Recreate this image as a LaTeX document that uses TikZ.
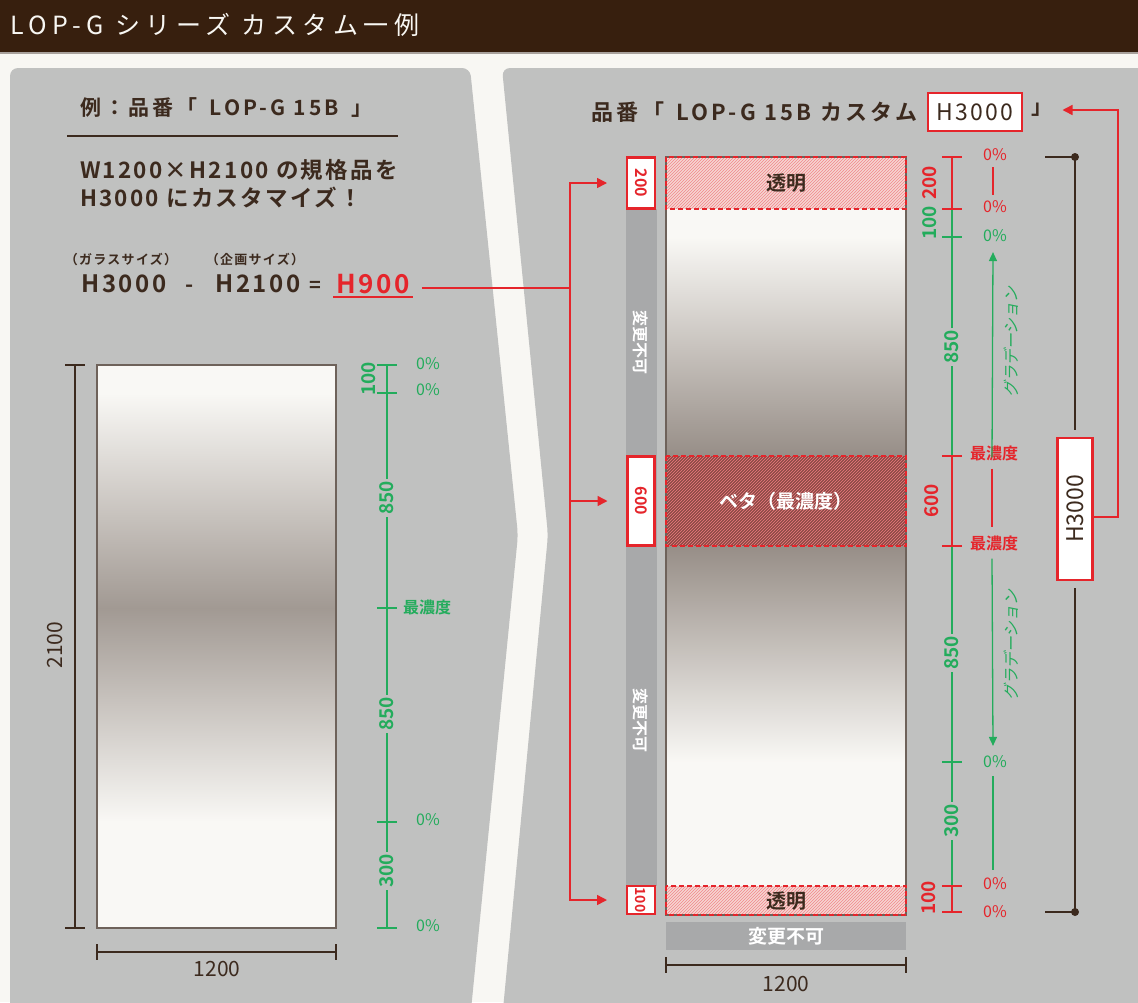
\documentclass[tikz,border=0pt]{standalone}
\usepackage{fontspec}
\usepackage{graphicx}
\setmainfont{Noto Sans CJK JP}[BoldFont={Noto Sans CJK JP Bold}]
\newfontfamily\titlefont[LetterSpace=22]{Noto Sans CJK JP}
\newfontfamily\widefont[LetterSpace=10,BoldFont={Noto Sans CJK JP Bold}]{Noto Sans CJK JP}
\newfontfamily\widerfont[LetterSpace=15,BoldFont={Noto Sans CJK JP Bold}]{Noto Sans CJK JP}
\newfontfamily\gradfont[FakeSlant=0.2]{Noto Sans CJK JP}
\usetikzlibrary{arrows.meta}
\usetikzlibrary{patterns}
\usetikzlibrary{positioning}
\definecolor{barbrown}{HTML}{371F0E}
\definecolor{inkbrown}{HTML}{3C2A1E}
\definecolor{panelgrey}{HTML}{C0C1C0}
\definecolor{paper}{HTML}{F8F7F3}
\definecolor{markred}{HTML}{E5252B}
\definecolor{markgreen}{HTML}{23AC5C}
\definecolor{lockgrey}{HTML}{A8A9AA}
\definecolor{glasswhite}{HTML}{F9F8F5}
\definecolor{glassdark}{HTML}{978E87}
\definecolor{glassedge}{HTML}{6E625A}
\definecolor{betared}{HTML}{8B4A46}
\definecolor{clearpink}{HTML}{F6D6D3}

\begin{document}
\begin{tikzpicture}[x=1pt,y=-1pt,
    every node/.style={inner sep=0pt,outer sep=0pt},
    inktext/.style={text=inkbrown},
    pct/.style={font=\fontsize{16}{16}\selectfont},
    scalenum/.style={rotate=90,font=\bfseries\fontsize{19}{19}\selectfont,fill=panelgrey,inner sep=2pt},
    numbox/.style={draw=markred,line width=2.4pt,fill=white,text=markred,
        font=\bfseries\fontsize{16}{16}\selectfont},
    clearzone/.style={draw=markred,line width=1.6pt,dash pattern=on 5pt off 3pt},
    greenline/.style={markgreen,line width=1.3pt},
    redline/.style={markred,line width=1.3pt},
    redarrow/.style={markred,line width=1.5pt,-{Triangle[length=10pt,width=10pt]}},
    greenarrow/.style={markgreen,line width=1.3pt,-{Triangle[length=9pt,width=8pt]}},
    dimline/.style={inkbrown,line width=1.3pt}
  ]
  \useasboundingbox (0,0) rectangle (1138,1002);
  \fill[paper] (0,0) rectangle (1138,1002);

  % title bar
  \fill[barbrown] (0,0) rectangle (1138,52);
  \draw[line width=1.5pt,color=glassedge!60] (0,53) -- (1138,53);
  \node[anchor=west,text=paper,font=\titlefont\fontsize{25}{25}\selectfont] (title) at (10,25) {LOP-G シリーズ カスタム一例};

  % panels
  \fill[panelgrey,rounded corners=8pt] (10,1020) -- (10,68) -- (470,68) -- (518,535) -- (470,1020) -- cycle;
  \fill[panelgrey,rounded corners=8pt] (1150,1020) -- (502,1020) -- (548,535) -- (502,68) -- (1150,68) -- cycle;

  % ---- left panel ----
  \node[inktext,anchor=west,font=\widerfont\bfseries\fontsize{21}{21}\selectfont] (example) at (80,108) {例：品番「\hspace{12pt}LOP-G 15B\hspace{12pt}」};
  \draw[inkbrown,line width=2pt] (67,136) -- (398,136);
  \node[inktext,anchor=west,font=\widefont\bfseries\fontsize{22.5}{22.5}\selectfont] (specline) at (80,170) {W1200×H2100 の規格品を};
  \node[inktext,anchor=west,font=\widefont\bfseries\fontsize{22.5}{22.5}\selectfont] (customline) at (80,198) {H3000 にカスタマイズ！};

  \node[inktext,font=\widefont\bfseries\fontsize{13}{13}\selectfont] (glassnote) at (121,260) {（ガラスサイズ）};
  \node[inktext,font=\widefont\bfseries\fontsize{13}{13}\selectfont] (plannote) at (255,260) {（企画サイズ）};
  \node[inktext,font=\widefont\bfseries\fontsize{24}{24}\selectfont] (glasssize) at (124,284) {H3000};
  \node[inktext,font=\bfseries\fontsize{22}{22}\selectfont] (minus) at (190,289) {-};
  \node[inktext,font=\widefont\bfseries\fontsize{24}{24}\selectfont] (plansize) at (258,284) {H2100};
  \node[inktext,font=\bfseries\fontsize{20}{20}\selectfont] (equals) at (315,287) {=};
  \node[text=markred,font=\widefont\bfseries\fontsize{26}{26}\selectfont] (diff) at (373,284) {H900};
  \draw[markred,line width=1.5pt] (333,297) -- (413,297);

  % left glass
  \fill[glasswhite] (97,365) rectangle (336,393);
  \shade[top color=glasswhite,bottom color=glassdark!90] (97,393) rectangle (336,608);
  \shade[top color=glassdark!90,bottom color=glasswhite] (97,608) rectangle (336,822);
  \fill[glasswhite] (97,822) rectangle (336,928);
  \draw[glassedge,line width=1.5pt] (97,365) rectangle (336,928);

  % left dimensions
  \draw[dimline] (75,365) -- (75,928);
  \draw[dimline] (65,365) -- (85,365) (65,928) -- (85,928);
  \node[inktext,rotate=90,font=\fontsize{21}{21}\selectfont] (lefth) at (55,645) {2100};
  \draw[dimline] (97,952) -- (336,952);
  \draw[dimline] (97,944) -- (97,960) (336,944) -- (336,960);
  \node[inktext,font=\fontsize{21}{21}\selectfont] (leftw) at (217,969) {1200};

  % left scale
  \draw[greenline] (387,365) -- (387,928);
  \foreach \t in {365,393,608,822,928}
    \draw[greenline] (377,\t) -- (397,\t);
  \node[scalenum,text=markgreen,fill=none] (ltop) at (369,379) {100};
  \node[scalenum,text=markgreen] (lupper) at (387,498) {850};
  \node[scalenum,text=markgreen] (llower) at (387,714) {850};
  \node[scalenum,text=markgreen] (lbottom) at (387,871) {300};
  \node[pct,text=markgreen] (lp1) at (428,364) {0\%};
  \node[pct,text=markgreen] (lp2) at (428,390) {0\%};
  \node[pct,text=markgreen,font=\bfseries\fontsize{16}{16}\selectfont] (lmax) at (427,607) {最濃度};
  \node[pct,text=markgreen] (lp3) at (428,820) {0\%};
  \node[pct,text=markgreen] (lp4) at (428,926) {0\%};

  % ---- right panel ----
  \node[inktext,anchor=east,font=\widerfont\bfseries\fontsize{22}{22}\selectfont] (header) at (918,112) {品番「\hspace{12pt}LOP-G 15B カスタム};
  \node[draw=markred,line width=2.4pt,fill=white,minimum width=94,minimum height=38,
        inktext,font=\widefont\fontsize{23}{23}\selectfont] (newsize) at (975,112) {H3000};
  \node[inktext,font=\bfseries\fontsize{21}{21}\selectfont] (closebr) at (1042,110) {」};

  % right glass
  \fill[clearpink] (666,157) rectangle (906,209);
  \fill[pattern=north east lines,pattern color=markred!55] (666,157) rectangle (906,209);
  \fill[glasswhite] (666,209) rectangle (906,237);
  \shade[top color=glasswhite,bottom color=glassdark] (666,237) rectangle (906,456);
  \fill[betared] (666,456) rectangle (906,546);
  \fill[pattern=north east lines,pattern color=markred!60] (666,456) rectangle (906,546);
  \shade[top color=glassdark,bottom color=glasswhite] (666,546) rectangle (906,762);
  \fill[glasswhite] (666,762) rectangle (906,886);
  \fill[clearpink] (666,886) rectangle (906,915);
  \fill[pattern=north east lines,pattern color=markred!55] (666,886) rectangle (906,915);
  \draw[glassedge,line width=1.5pt] (666,157) rectangle (906,915);
  \draw[clearzone] (666,157) rectangle (906,209);
  \draw[clearzone] (666,456) rectangle (906,546);
  \draw[clearzone] (666,886) rectangle (906,915);
  \node[inktext,font=\bfseries\fontsize{20}{20}\selectfont] (cleartop) at (786,183) {透明};
  \node[text=white,font=\bfseries\fontsize{19}{19}\selectfont] (beta) at (786,501) {ベタ（最濃度）};
  \node[inktext,font=\bfseries\fontsize{20}{20}\selectfont] (clearbottom) at (786,901) {透明};

  % fixed parts
  \fill[lockgrey] (626,209) rectangle (657,886);
  \node[rotate=-90,text=white,font=\bfseries\fontsize{16}{16}\selectfont] (lockupper) at (641,342) {変更不可};
  \node[rotate=-90,text=white,font=\bfseries\fontsize{16}{16}\selectfont] (locklower) at (641,720) {変更不可};
  \node[fill=lockgrey,minimum width=240,minimum height=28,text=white,
        font=\bfseries\fontsize{19}{19}\selectfont] (lockbottom) at (786,936) {変更不可};

  % red size boxes
  \node[numbox,minimum width=28,minimum height=51] (box200) at (641,183) {\rotatebox{-90}{200}};
  \node[numbox,minimum width=27,minimum height=89] (box600) at (641,501) {\rotatebox{-90}{600}};
  \node[numbox,minimum width=28,minimum height=28,font=\bfseries\fontsize{14}{14}\selectfont] (box100) at (641,900) {\rotatebox{-90}{100}};

  % connectors from the difference
  \coordinate (split) at (570,288);
  \draw[redline,line width=1.5pt] ([xshift=12pt]diff.east |- split) -- (split);
  \draw[redarrow] (split) |- ([xshift=-20pt]box200.west);
  \draw[redarrow] (split) |- ([xshift=-20pt]box600.west);
  \draw[redarrow] (split) |- ([xshift=-20pt]box100.west);

  % right bottom dimension
  \draw[dimline] (666,965) -- (906,965);
  \draw[dimline] (666,957) -- (666,973) (906,957) -- (906,973);
  \node[inktext,font=\fontsize{21}{21}\selectfont] (rightw) at (786,984) {1200};

  % right scale
  \draw[redline] (952,157) -- (952,209) (952,456) -- (952,546) (952,886) -- (952,912);
  \draw[greenline] (952,209) -- (952,456) (952,546) -- (952,886);
  \foreach \t in {157,209,456,546,886,912}
    \draw[redline] (942,\t) -- (962,\t);
  \foreach \t in {237,762}
    \draw[greenline] (942,\t) -- (962,\t);
  \node[scalenum,text=markred,fill=none] (rtop) at (930,183) {200};
  \node[scalenum,text=markgreen,fill=none] (rclear) at (930,223) {100};
  \node[scalenum,text=markgreen] (rupper) at (952,347) {850};
  \node[scalenum,text=markred,fill=none] (rbeta) at (932,501) {600};
  \node[scalenum,text=markgreen] (rlower) at (952,653) {850};
  \node[scalenum,text=markgreen] (rwhite) at (952,821) {300};
  \node[scalenum,text=markred,fill=none] (rbottom) at (929,898) {100};

  \node[pct,text=markred] (rp1) at (995,155) {0\%};
  \node[pct,text=markred] (rp2) at (995,207) {0\%};
  \node[pct,text=markgreen] (rp3) at (995,236) {0\%};
  \node[pct,text=markred,font=\bfseries\fontsize{16}{16}\selectfont] (rmax1) at (994,453) {最濃度};
  \node[pct,text=markred,font=\bfseries\fontsize{16}{16}\selectfont] (rmax2) at (994,543) {最濃度};
  \node[pct,text=markgreen] (rp4) at (995,762) {0\%};
  \node[pct,text=markred] (rp5) at (995,884) {0\%};
  \node[pct,text=markred] (rp6) at (995,912) {0\%};
  \draw[redline] ([xshift=-2pt,yshift=-6pt]rp1.south) -- ([xshift=-2pt,yshift=6pt]rp2.north);
  \draw[greenarrow] ([xshift=-2pt,yshift=-12pt]rmax1.north) -- ([xshift=-2pt,yshift=-10pt]rp3.south);
  \draw[redline] ([xshift=-2pt,yshift=-8pt]rmax1.south) -- ([xshift=-2pt,yshift=8pt]rmax2.north);
  \draw[greenarrow] ([xshift=-2pt,yshift=-8pt]rmax2.south) -- ([xshift=-2pt,yshift=10pt]rp4.north);
  \draw[greenline] ([xshift=-2pt,yshift=-8pt]rp4.south) -- ([xshift=-2pt,yshift=8pt]rp5.north);
  \node[rotate=90,text=markgreen,font=\gradfont\fontsize{16}{16}\selectfont] (gradup) at (1011,342) {グラデーション};
  \node[rotate=90,text=markgreen,font=\gradfont\fontsize{16}{16}\selectfont] (graddown) at (1011,645) {グラデーション};

  % overall height
  \node[draw=markred,line width=2.4pt,fill=white,minimum width=35,minimum height=142,
        inktext,font=\fontsize{23}{23}\selectfont] (h3000v) at (1075,509) {\rotatebox{90}{H3000}};
  \draw[dimline] (1045,157) -- (1075,157) -- ([yshift=8pt]h3000v.north);
  \draw[dimline] ([yshift=-8pt]h3000v.south) -- (1075,912) -- (1045,912);
  \fill[inkbrown] (1075,157) circle (4pt) (1075,912) circle (4pt);
  \draw[redarrow] (h3000v.east |- 0,517) -- (1118,517) |- ([xshift=10pt]closebr.east);
\end{tikzpicture}
\end{document}
